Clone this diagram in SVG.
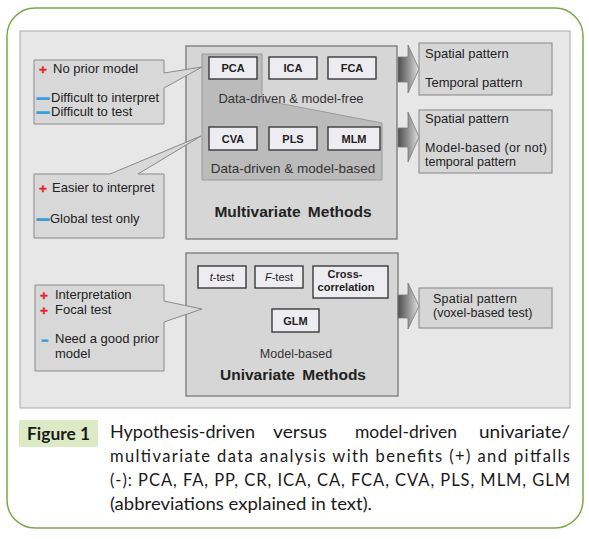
<svg xmlns="http://www.w3.org/2000/svg" width="589" height="539" viewBox="0 0 589 539">
<defs>
<linearGradient id="arrowGrad" x1="0" y1="0" x2="1" y2="0">
<stop offset="0" stop-color="#4e4e4e"/>
<stop offset="0.55" stop-color="#9a9a9a"/>
<stop offset="1" stop-color="#e2e2e2"/>
</linearGradient>
</defs>
<style>
.frame{fill:#ffffff;stroke:#79a84b;stroke-width:1.5}
.bg{fill:#e7e7e7;stroke:#a9a9a9;stroke-width:1}
.big{fill:#d6d6d6;stroke:#6e6e6e;stroke-width:1.2}
.call{fill:#d8d8d8;stroke:#8a8a8a;stroke-width:1}
.out{fill:#d6d6d6;stroke:#858585;stroke-width:1}
.small{fill:#ededf1;stroke:#3a3a3a;stroke-width:1.4}
.dd{fill:#bbbbbb;stroke:#9a9a9a;stroke-width:1}
.arrow{fill:url(#arrowGrad);stroke:#7a7a7a;stroke-width:0.8}
text{font-family:"Liberation Sans",Arial,sans-serif;fill:#222}
.t13{font-size:13px}
.t12{font-size:12.5px}
.lbl{font-size:11px;font-weight:bold;text-anchor:middle}
.lbln{font-size:11px;text-anchor:middle}
.sub{font-size:13px;fill:#333;text-anchor:middle}
.title{font-size:15.5px;font-weight:bold;text-anchor:middle;word-spacing:3px}
.plus{font-size:13.5px;font-weight:bold;fill:#e8202a;stroke:#e8202a;stroke-width:0.4}
.minus{font-size:12px;font-weight:bold;fill:#3a9fd8;stroke:#3a9fd8;stroke-width:1.4}
.cap{font-family:Lato,"Open Sans",sans-serif;font-size:16.5px;fill:#1a1a1a}
</style>

<rect class="frame" x="7" y="8" width="576" height="520" rx="28" ry="28"/>
<rect class="bg" x="20" y="31" width="550" height="377"/>

<g id="multivariate">
<rect class="big" x="186" y="46" width="211" height="193"/>
<polygon class="dd" points="202,54 262,54 262,100 382,123 382,180 202,180"/>
<text class="sub" x="291" y="103">Data-driven &amp; model-free</text>
<text class="sub" x="293" y="173" style="font-size:13.5px">Data-driven &amp; model-based</text>
<text class="title" x="293" y="217">Multivariate Methods</text>
</g>

<g id="pca"><rect class="small" x="209" y="57" width="48" height="22"/><text class="lbl" x="233" y="72">PCA</text></g>
<g id="ica"><rect class="small" x="269" y="57" width="48" height="22"/><text class="lbl" x="293" y="72">ICA</text></g>
<g id="fca"><rect class="small" x="328" y="57" width="48" height="22"/><text class="lbl" x="352" y="72">FCA</text></g>
<g id="cva"><rect class="small" x="209" y="127" width="48" height="23"/><text class="lbl" x="233" y="143">CVA</text></g>
<g id="pls"><rect class="small" x="269" y="127" width="48" height="23"/><text class="lbl" x="293" y="143">PLS</text></g>
<g id="mlm"><rect class="small" x="328" y="127" width="52" height="23"/><text class="lbl" x="354" y="143">MLM</text></g>

<g id="univariate">
<rect class="big" x="186" y="253" width="212" height="143"/>
<text class="sub" x="296" y="358" style="font-size:12.5px">Model-based</text>
<text class="title" x="293" y="380">Univariate Methods</text>
</g>

<g id="ttest"><rect class="small" x="198" y="266" width="48" height="22"/><text class="lbln" x="222" y="281"><tspan font-style="italic">t</tspan>-test</text></g>
<g id="ftest"><rect class="small" x="255" y="266" width="48" height="22"/><text class="lbln" x="279" y="281"><tspan font-style="italic">F</tspan>-test</text></g>
<g id="crosscorr"><rect class="small" x="313" y="266" width="75" height="32"/><text class="lbl" x="345" y="278">Cross-</text><text class="lbl" x="346" y="291">correlation</text></g>
<g id="glm"><rect class="small" x="272" y="309" width="47" height="23"/><text class="lbl" x="295.5" y="325">GLM</text></g>

<g id="callout-modelfree">
<path class="call" d="M34,60 H164 V73 L202,67 L164,88 V124 H34 Z"/>
<text class="plus" x="39" y="74">+</text>
<text class="t13" x="53" y="73">No prior model</text>
<text class="minus" x="37" y="102">—</text>
<text class="t13" x="51" y="102">Difficult to interpret</text>
<text class="minus" x="37" y="116">—</text>
<text class="t13" x="51" y="116">Difficult to test</text>
</g>

<g id="callout-modelbased">
<path class="call" d="M34,174 H110 L201,136 L138,174 H164 V238 H34 Z"/>
<text class="plus" x="39" y="193">+</text>
<text class="t13" x="52" y="192">Easier to interpret</text>
<text class="minus" x="37" y="223">—</text>
<text class="t13" x="50" y="223">Global test only</text>
</g>

<g id="callout-univariate">
<path class="call" d="M35,285 H164 V301 L202,309 L164,322 V371 H35 Z"/>
<text class="plus" x="40" y="300">+</text>
<text class="t13" x="55" y="299">Interpretation</text>
<text class="plus" x="40" y="315">+</text>
<text class="t13" x="55" y="314">Focal test</text>
<text class="minus" x="41.5" y="344" style="stroke-width:0.8">–</text>
<text class="t13" x="55" y="343">Need a good prior</text>
<text class="t13" x="55" y="358">model</text>
</g>

<g id="out-modelfree">
<rect class="out" x="419" y="43" width="133" height="52"/>
<text class="t13" x="425" y="58">Spatial pattern</text>
<text class="t13" x="425" y="87">Temporal pattern</text>
</g>
<g id="out-modelbased">
<rect class="out" x="419" y="110" width="133" height="63"/>
<text class="t13" x="425" y="123">Spatial pattern</text>
<text class="t12" x="425" y="152" textLength="122" lengthAdjust="spacing">Model-based (or not)</text>
<text class="t12" x="425" y="166">temporal pattern</text>
</g>
<g id="out-univariate">
<rect class="out" x="419" y="288" width="133" height="40"/>
<text class="t12" x="433" y="303" textLength="84" lengthAdjust="spacing">Spatial pattern</text>
<text class="t12" x="433" y="317">(voxel-based test)</text>
</g>

<g id="connectors">
<path class="arrow" d="M398,57 H408 V45 L419,69 L408,93 V82 H398 Z"/>
<path class="arrow" d="M398,128 H408 V112 L419,137 L408,162 V147 H398 Z"/>
<path class="arrow" d="M398,295 H408 V283 L419,306 L408,329 V318 H398 Z"/>
</g>

<g id="caption">
<rect x="19" y="420" width="79" height="27" fill="#dcebc6"/>
<text class="cap" x="27" y="440" style="font-weight:bold" textLength="63" lengthAdjust="spacingAndGlyphs">Figure 1</text>
<text class="cap" x="110" y="438" textLength="145" lengthAdjust="spacingAndGlyphs">Hypothesis-driven</text>
<text class="cap" x="273" y="438" textLength="54" lengthAdjust="spacingAndGlyphs">versus</text>
<text class="cap" x="355" y="438" textLength="102" lengthAdjust="spacingAndGlyphs">model-driven</text>
<text class="cap" x="479" y="438" textLength="91" lengthAdjust="spacingAndGlyphs">univariate/</text>
<text class="cap" x="110" y="462" textLength="460" lengthAdjust="spacing">multivariate data analysis with benefits (+) and pitfalls</text>
<text class="cap" x="110" y="486" textLength="460" lengthAdjust="spacing">(-): PCA, FA, PP, CR, ICA, CA, FCA, CVA, PLS, MLM, GLM</text>
<text class="cap" x="110" y="510" textLength="262" lengthAdjust="spacingAndGlyphs">(abbreviations explained in text).</text>
</g>
</svg>
